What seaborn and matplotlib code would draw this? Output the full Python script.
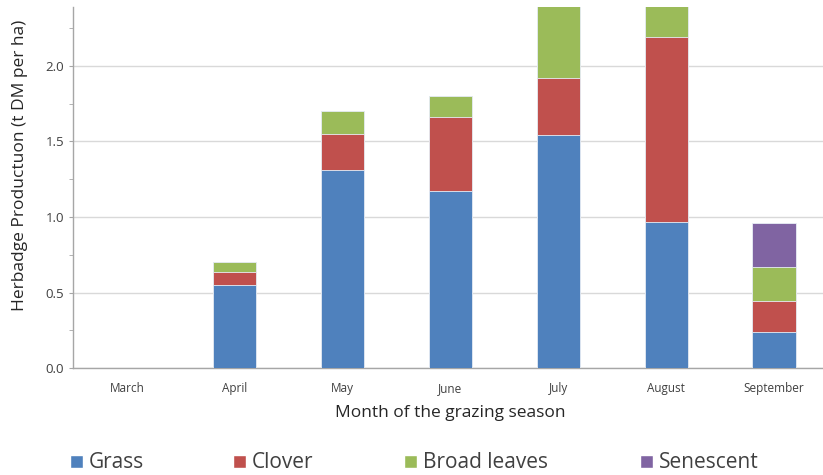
import numpy as np
import matplotlib.pyplot as plt
import seaborn as sns
from matplotlib.patches import Patch

# Data (t DM per ha, per component)
months = ['March', 'April', 'May', 'June', 'July', 'August', 'September']
grass = [0.0, 0.55, 1.31, 1.17, 1.54, 0.97, 0.24]
clover = [0.0, 0.085, 0.24, 0.49, 0.38, 1.22, 0.205]
broad_leaves = [0.0, 0.065, 0.15, 0.14, 0.55, 0.30, 0.225]
senescent = [0.0, 0.0, 0.0, 0.0, 0.0, 0.0, 0.29]

labels = ['Grass', 'Clover', 'Broad leaves', 'Senescent']
colors = ['#4F81BD', '#C0504D', '#9BBB59', '#8064A2']

sns.set_style('white')
plt.rcParams['font.family'] = ['Open Sans', 'DejaVu Sans']

fig = plt.figure(figsize=(8.23, 4.75), dpi=100)
ax = fig.add_axes([73 / 823, 1 - 368.3 / 475, (828 - 73) / 823, (368.3 - 7.3) / 475])

# stacked bars: draw cumulative totals, tallest first
layers = [grass, clover, broad_leaves, senescent]
cum = np.cumsum(np.array(layers), axis=0)
for i in range(len(layers) - 1, -1, -1):
    sns.barplot(x=months, y=cum[i], color=colors[i], width=0.40,
                saturation=1, ax=ax, zorder=3, linewidth=0.6, edgecolor='#E8EEF6')

ax.set_ylim(0, 2.386)
ax.set_xlim(-0.5, 6.5)
ax.set_yticks(np.arange(0, 2.01, 0.5))
ax.set_yticks(np.arange(0, 2.3, 0.25), minor=True)
ax.set_yticklabels([f'{v:.1f}' for v in np.arange(0, 2.01, 0.5)])
ax.yaxis.grid(True, which='major', color='#D9D9D9', linewidth=1, zorder=0)
ax.set_axisbelow(True)

# x ticks: labels at centres, marks between categories
ax.set_xticks(range(len(months)))
ax.set_xticklabels(months, fontsize=8.5, color='#404040')
ax.set_xticks(np.arange(-0.5, 7.0, 1.0), minor=True)
ax.tick_params(axis='x', which='major', length=0, pad=10)
ax.tick_params(axis='x', which='minor', length=4, color='#A6A6A6', direction='out')
ax.tick_params(axis='y', which='both', length=3, color='#A6A6A6', direction='out',
               labelsize=9.5, labelcolor='#404040', left=True)

for side in ['top', 'right']:
    ax.spines[side].set_visible(False)
for side in ['left', 'bottom']:
    ax.spines[side].set_color('#A6A6A6')
    ax.spines[side].set_linewidth(1)

ax.set_xlabel('Month of the grazing season', fontsize=12.5, color='#262626', labelpad=7)
ax.set_ylabel('Herbadge Productuon (t DM per ha)', fontsize=12.5, color='#262626')
ax.yaxis.set_label_coords(-0.06, 0.563)

# legend entries placed one by one, as in the original
legend_x = [70, 233, 404, 640]
for c, l, x in zip(colors, labels, legend_x):
    fig.legend(handles=[Patch(facecolor=c, label=l)], loc='center left',
               bbox_to_anchor=(x / 823, 1 - 463 / 475), frameon=False, fontsize=15,
               handlelength=0.6, handleheight=0.6, handletextpad=0.3,
               borderpad=0, borderaxespad=0, labelcolor='#404040')

fig.savefig('out.png', dpi=100)
